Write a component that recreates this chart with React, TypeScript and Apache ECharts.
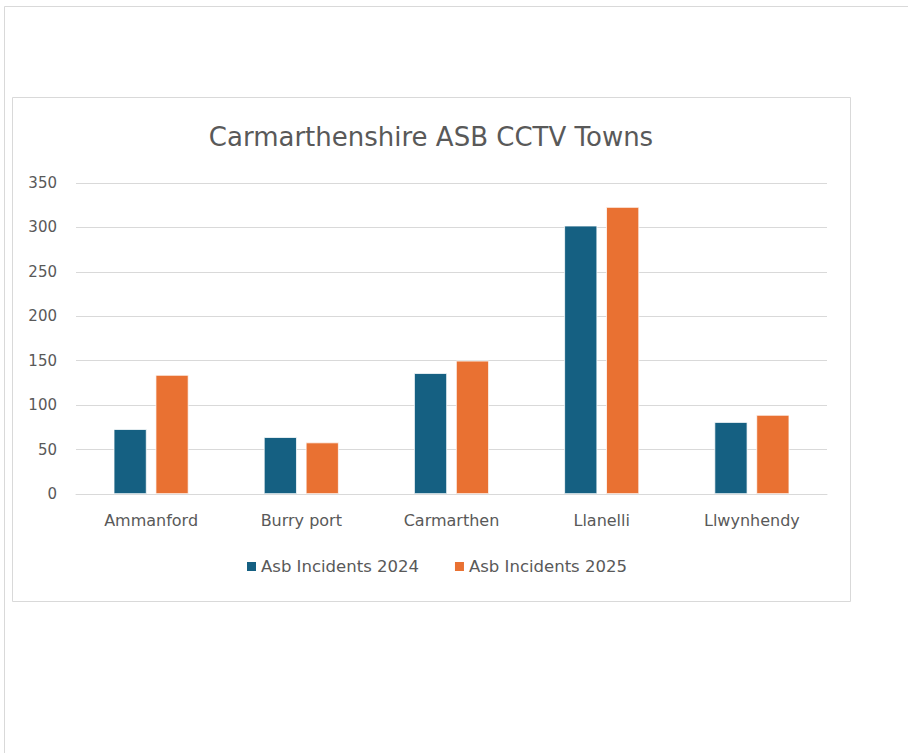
import React, { useEffect, useRef } from "react";
import * as echarts from "echarts";

const categories = ["Ammanford", "Burry port", "Carmarthen", "Llanelli", "Llwynhendy"];
const incidents2024 = [73, 64, 136, 302, 81];
const incidents2025 = [134, 58, 150, 323, 89];
const seriesNames = ["Asb Incidents 2024", "Asb Incidents 2025"];
const titleText = "Carmarthenshire ASB CCTV Towns";

const FONT = "DejaVu Sans";
const TXT = "#595959";

export default function App() {
  const ref = useRef<HTMLDivElement>(null);
  useEffect(() => {
    document.body.style.margin = "0";
    if (!ref.current) return;
    const chart = echarts.init(ref.current, undefined, { renderer: "svg" });
    chart.setOption({
      animation: false,
      backgroundColor: "#ffffff",
      graphic: [
        {
          type: "rect",
          z: -10,
          silent: true,
          shape: { x: 4.5, y: 6.5, width: 1000, height: 1000 },
          style: { fill: "#ffffff", stroke: "#d9d9d9", lineWidth: 1 },
        },
        {
          type: "rect",
          z: -9,
          silent: true,
          shape: { x: 12.5, y: 97.5, width: 838, height: 504 },
          style: { fill: "#ffffff", stroke: "#d9d9d9", lineWidth: 1 },
        },
        {
          type: "text",
          x: 431,
          y: 137,
          style: {
            text: titleText,
            fontFamily: FONT,
            fontSize: 26,
            fill: TXT,
            textAlign: "center",
            textVerticalAlign: "middle",
          },
        },
      ],
      legend: {
        data: seriesNames,
        left: 240,
        top: 553,
        icon: "rect",
        itemWidth: 11,
        itemHeight: 11,
        itemGap: 34,
        textStyle: { fontFamily: FONT, fontSize: 16.5, color: TXT, padding: [0, 0, 0, -1] },
      },
      grid: { left: 76, right: 81, top: 183, bottom: 259, containLabel: false },
      xAxis: {
        type: "category",
        data: categories,
        axisLine: { lineStyle: { color: "#d9d9d9", width: 1 } },
        axisTick: { show: false },
        axisLabel: { fontFamily: FONT, fontSize: 16, color: TXT, margin: 18 },
      },
      yAxis: {
        type: "value",
        min: 0,
        max: 350,
        interval: 50,
        axisLine: { show: false },
        axisTick: { show: false },
        splitLine: { lineStyle: { color: "#d9d9d9", width: 1 } },
        axisLabel: { fontFamily: FONT, fontSize: 15, color: TXT, margin: 19 },
      },
      series: [
        {
          name: seriesNames[0],
          type: "bar",
          data: incidents2024,
          barWidth: 33,
          barGap: "27%",
          itemStyle: { color: "#156082", borderColor: "#ffffff", borderWidth: 0.75 },
        },
        {
          name: seriesNames[1],
          type: "bar",
          data: incidents2025,
          barWidth: 33,
          barGap: "27%",
          itemStyle: { color: "#e97132", borderColor: "#ffffff", borderWidth: 0.75 },
        },
      ],
    });
    return () => chart.dispose();
  }, []);
  return <div ref={ref} style={{ width: 908, height: 753 }} />;
}
